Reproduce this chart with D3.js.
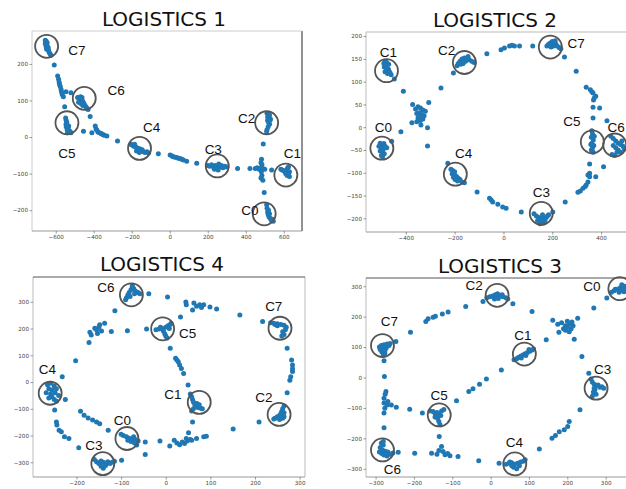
<!DOCTYPE html>
<html><head><meta charset="utf-8">
<script src="https://cdn.jsdelivr.net/npm/d3@7/dist/d3.min.js"></script>
<style>body{margin:0;background:#fff}svg{display:block}</style>
</head><body>
<svg id="c" width="626" height="489"></svg>
<script>
// ---------- DATA ----------
const titles = ["LOGISTICS 1", "LOGISTICS 2", "LOGISTICS 4", "LOGISTICS 3"];

const pts1 = [[-655,265],[-650,262],[-645,258],[-652,252],[-645,248],[-640,245],[-648,240],[-638,238],[-635,232],[-630,228],[-625,224],[-655,256],[-650,246],
[-608,197],[-590,167],[-585,158],[-582,150],[-580,144],[-576,138],[-572,130],[-570,124],[-566,116],[-560,110],[-546,124],[-520,121],
[-485,108],[-478,105],[-470,110],[-465,104],[-460,100],[-472,98],[-455,95],[-450,90],[-445,85],[-440,82],[-435,78],[-430,75],[-462,108],[-480,95],[-468,92],[-458,86],
[-553,83],[-548,52],[-545,45],[-542,40],[-546,35],[-540,30],[-535,25],[-540,20],[-530,18],[-525,15],[-520,12],[-538,12],[-545,28],[-532,30],
[-454,16],[-419,56],[-410,12],[-392,30],[-388,22],[-384,19],[-378,14],[-370,12],[-362,10],[-357,8],[-350,6],[-345,5],[-331,3],[-275,-11],
[-205,-20],[-198,-22],[-190,-25],[-185,-20],[-178,-28],[-170,-30],[-165,-35],[-158,-32],[-150,-38],[-145,-35],[-138,-40],[-130,-42],[-120,-40],[-112,-44],[-175,-38],[-160,-42],
[-60,-46],[2,-49],[12,-52],[19,-54],[28,-55],[37,-56],[45,-58],[54,-59],[63,-61],[72,-63],[89,-66],[142,-72],
[200,-78],[210,-80],[220,-76],[230,-82],[240,-78],[245,-85],[250,-80],[258,-74],[265,-82],[272,-78],[280,-84],[290,-80],[300,-82],[235,-88],[255,-90],
[357,-86],[422,-86],[450,-86],[460,-84],[470,-88],[480,-85],[490,-86],[500,-88],[483,-61],[480,-70],[485,-75],[482,-95],[485,-105],[480,-112],[490,-118],[492,-19],[497,-152],
[512,65],[518,62],[525,60],[515,55],[522,52],[528,50],[515,45],[520,40],[525,35],[530,48],[518,28],[512,20],[510,15],[524,44],
[536,-90],[585,-88],[592,-90],[600,-92],[608,-95],[615,-90],[620,-85],[625,-82],[630,-95],[625,-100],[618,-105],[630,-108],[610,-100],
[510,-185],[512,-195],[515,-205],[518,-212],[522,-218],[528,-222],[535,-228],[540,-225],[545,-230],[525,-210],[520,-200]];

const pts2 = [[-490,140],[-485,145],[-478,142],[-470,138],[-488,132],[-480,130],[-472,128],[-485,122],[-475,118],[-465,120],[-460,115],[-470,125],[-480,136],
[-447,106],[-410,79],
[-372,50],[-306,54],[-375,10],[-311,-1],[-360,40],[-350,45],[-340,42],[-330,38],[-355,30],[-345,32],[-335,28],[-325,25],[-350,20],[-340,15],[-330,18],[-345,25],[-338,5],[-355,12],[-320,35],
[-420,-10],[-458,-31],
[-505,-35],[-498,-38],[-490,-36],[-510,-42],[-500,-45],[-492,-48],[-485,-42],[-478,-45],[-505,-52],[-495,-55],[-488,-58],[-500,-62],[-495,-65],
[-311,-41],[-228,-79],
[-215,-92],[-208,-95],[-200,-98],[-210,-102],[-200,-105],[-192,-108],[-185,-112],[-198,-115],[-188,-118],[-178,-115],[-170,-120],[-160,-122],[-205,-110],
[-108,-142],[-57,-156],[-50,-160],[-44,-164],[-23,-169],[-3,-175],[11,-178],[73,-186],
[125,-190],[135,-195],[145,-198],[150,-205],[158,-200],[165,-210],[170,-205],[175,-198],[180,-195],[185,-192],[160,-192],[140,-205],[150,-212],
[202,-186],[253,-164],
[305,-143],[315,-140],[326,-134],[335,-130],[339,-127],[346,-120],[353,-109],[346,-105],[353,-101],[378,-109],[410,-87],[353,-81],
[362,-8],[365,-15],[360,-22],[368,-28],[362,-35],[370,-40],[365,-45],[360,-50],[368,-55],[372,-20],[358,-38],
[440,-20],[450,-25],[460,-30],[470,-35],[480,-38],[490,-42],[495,-48],[450,-40],[460,-45],[470,-50],[480,-55],[445,-60],[455,-62],[465,-55],[485,-30],
[367,20],[424,14],[394,42],[367,44],
[369,60],[378,68],[372,64],[367,75],[362,78],[356,82],[339,88],[298,123],[250,154],
[178,178],[185,182],[192,185],[200,188],[208,185],[215,182],[220,178],[228,175],[235,172],[205,178],[212,190],[195,176],
[120,178],[66,178],[45,178],[35,180],[25,178],[4,174],[-10,170],[-68,161],
[-190,135],[-185,140],[-178,145],[-170,150],[-160,152],[-150,150],[-140,148],[-130,145],[-120,142],[-165,140],[-155,145],[-175,138],[-145,155],
[-205,119],[-256,86]];

const pts4 = [[-88,315],[-85,325],[-82,335],[-78,345],[-75,355],[-72,350],[-68,340],[-62,335],[-58,330],[-70,330],[-80,320],[-90,308],[-75,360],
[-38,330],[4,318],[-114,266],[-86,192],
[-170,186],[-167,176],[-159,201],[-148,214],[-144,191],[-137,220],[-153,181],[-172,148],[-122,189],[-155,195],[-150,205],
[-202,80],[-232,20],
[-265,-10],[-258,-5],[-250,-15],[-262,-25],[-255,-30],[-245,-25],[-268,-40],[-258,-45],[-248,-40],[-240,-50],[-255,-55],[-250,-65],[-245,-72],[-262,-60],
[-225,-65],[-249,-105],
[-245,-149],[-244,-161],[-239,-180],[-234,-186],[-227,-205],[-217,-211],[-195,-246],
[-191,-109],[-183,-124],[-174,-134],[-164,-142],[-155,-149],[-148,-156],[-129,-180],
[-160,-290],[-155,-298],[-150,-305],[-145,-295],[-140,-300],[-135,-308],[-130,-298],[-125,-305],[-120,-300],[-115,-296],[-145,-315],[-140,-322],[-135,-312],
[-99,-292],
[-100,-195],[-95,-200],[-88,-205],[-82,-210],[-75,-212],[-68,-215],[-62,-220],[-78,-222],[-70,-228],[-65,-235],[-85,-218],[-72,-205],
[-46,-224],[-46,-271],
[-13,-220],[9,-239],[19,-218],[31,-234],[37,-224],[46,-211],[51,-190],[58,-218],[69,-211],[85,-205],[91,-203],[42,-230],[48,-220],[55,-215],[25,-228],
[55,-45],[58,-55],[60,-65],[62,-75],[65,-85],[68,-90],[72,-95],[78,-98],[82,-100],[70,-80],[62,-100],[58,-108],[75,-85],
[60,-149],[50,-11],
[10,126],[22,89],[25,82],[28,76],[31,64],[35,51],[40,32],
[-22,195],[-15,198],[-8,200],[0,205],[5,210],[10,215],[12,220],[-5,190],[-2,180],[0,172],[3,165],[-12,205],[8,200],
[-43,198],[33,243],
[45,299],[46,289],[63,295],[69,283],[76,289],[80,279],[85,289],[99,280],[114,273],[60,269],
[166,251],[217,226],
[235,222],[242,220],[250,218],[258,215],[265,212],[270,205],[268,195],[262,188],[265,178],[260,172],[250,210],[245,215],
[272,126],[282,82],[284,64],[284,50],[284,39],[280,20],[278,7],[272,-40],
[265,-90],[262,-100],[260,-110],[258,-118],[255,-125],[250,-130],[245,-135],[242,-138],[265,-130],[262,-135],[255,-140],[265,-115],
[209,-149],[151,-176]];

const pts3 = [[-10,262],[-2,265],[5,268],[12,272],[18,275],[25,270],[32,265],[40,262],[45,258],[20,260],[10,258],[30,272],[15,265],
[-20,250],[58,242],[108,217],
[315,280],[322,285],[330,290],[338,295],[345,298],[350,300],[340,285],[348,282],[335,280],[325,290],[352,290],[342,305],
[303,261],[269,228],
[-65,233],[-111,215],[-126,209],[-144,201],[-150,198],[-163,193],[-169,184],[-209,149],[-247,118],
[-290,100],[-285,105],[-278,108],[-270,110],[-262,112],[-288,92],[-280,95],[-272,98],[-284,85],[-276,80],[-280,75],[-265,105],[-275,90],
[-278,55],
[-277,3],[-273,-46],[-278,-68],[-278,-84],[-276,-101],[-268,-79],[-259,-90],[-246,-98],[-278,-117],[-278,-165],[-275,-55],[-270,-90],
[-285,-215],[-280,-222],[-288,-230],[-282,-238],[-275,-242],[-268,-245],[-290,-245],[-284,-250],[-278,-255],[-270,-258],[-262,-252],[-255,-248],[-280,-210],
[-241,-246],
[-198,-249],[-154,-249],[-140,-252],[-128,-227],[-124,-243],[-119,-254],[-106,-257],[-134,-194],[-85,-260],[-31,-274],[-135,-240],[-112,-250],
[-158,-110],[-150,-112],[-145,-118],[-140,-125],[-135,-120],[-128,-110],[-122,-105],[-145,-130],[-138,-135],[-135,-145],[-132,-155],[-140,-115],[-130,-125],
[-211,-104],[-178,-117],[-89,-76],
[-57,-46],[-46,-37],[-29,-22],[-11,-5],[28,25],[61,58],
[68,62],[72,66],[78,70],[84,74],[90,78],[96,82],[102,86],[108,90],[112,94],[80,64],[92,72],[100,92],
[145,124],
[175,175],[185,180],[195,170],[200,165],[205,175],[210,160],[215,170],[205,150],[195,155],[190,160],[162,188],[178,149],[227,195],[218,126],[200,185],[212,182],
[238,69],[256,14],
[262,-5],[265,-15],[270,-22],[275,-28],[280,-25],[285,-32],[290,-30],[295,-35],[272,-40],[268,-48],[275,-55],[265,-62],[270,-35],
[233,-106],[205,-145],[201,-161],[192,-172],[179,-178],[169,-191],[160,-200],[127,-235],
[40,-285],[48,-282],[55,-280],[62,-285],[70,-282],[78,-278],[85,-275],[90,-270],[60,-295],[68,-300],[55,-290],[75,-290],[50,-278],
[22,-282]];

// circled clusters: [label, cx, cy, labelX, labelY]
const marks1 = [["C7",-648,248,-489,238],["C6",-450,106,-282,127],["C5",-541,39,-541,-43],["C4",-159,-31,-95,28],
                ["C3",250,-79,229,-34],["C2",510,39,405,51],["C1",611,-104,646,-43],["C0",497,-210,422,-201]];
const marks2 = [["C1",-479,124,-471,164],["C0",-498,-46,-492,0],["C4",-197,-103,-163,-56],["C3",155,-189,155,-142],
                ["C5",364,-32,280,14],["C6",456,-39,462,1],["C7",192,176,298,185],["C2",-160,142,-233,170]];
const marks4 = [["C6",-77,326,-134,356],["C5",-7,199,49,182],["C7",256,201,242,285],["C4",-259,-42,-265,49],
                ["C1",75,-76,16,-45],["C2",254,-121,220,-55],["C0",-87,-211,-97,-142],["C3",-141,-305,-161,-236]];
const marks3 = [["C2",17,270,-43,303],["C0",337,292,264,299],["C7",-282,105,-264,186],["C1",88,77,84,138],
                ["C3",275,-35,292,27],["C5",-134,-123,-134,-57],["C6",-282,-238,-256,-301],["C4",63,-284,62,-214]];

const xTicks1 = [-600,-400,-200,0,200,400,600], yTicks1 = [-200,-100,0,100,200];
const xTicks2 = [-400,-200,0,200,400], yTicks2 = [-200,-150,-100,-50,0,50,100,150,200];
const xTicks4 = [-200,-100,0,100,200,300], yTicks4 = [-300,-200,-100,0,100,200,300];
const xTicks3 = [-300,-200,-100,0,100,200,300], yTicks3 = [-300,-200,-100,0,100,200,300];

const xDom1 = [-725,696], yDom1 = [-257,290];
const xDom2 = [-563,502], yDom2 = [-230,209];
const xDom4 = [-297.5,312], yDom4 = [-355,392.6];
const xDom3 = [-325,353], yDom3 = [-327,327];

// ---------- DRAW ----------
const svg = d3.select("#c");
const BLUE = "#1f77b4";

function panel(cfg){
  const {box, xDom, yDom, xTicks, yTicks, pts, marks, title, titleX, titleY, spines} = cfg;
  const x = d3.scaleLinear().domain(xDom).range([box[0], box[2]]);
  const y = d3.scaleLinear().domain(yDom).range([box[3], box[1]]);
  const g = svg.append("g");
  const sp = [
    ["left", box[0],box[1],box[0],box[3]],
    ["right",box[2],box[1],box[2],box[3]],
    ["top",  box[0],box[1],box[2],box[1]],
    ["bottom",box[0],box[3],box[2],box[3]]];
  sp.forEach(s=>{
    const c = spines[s[0]];
    if(!c) return;
    g.append("line").attr("x1",s[1]).attr("y1",s[2]).attr("x2",s[3]).attr("y2",s[4])
      .attr("stroke",c).attr("stroke-width",1);
  });
  const fmt = d => d < 0 ? "\u2212" + Math.abs(d) : String(d);
  const ax = g.append("g").attr("transform",`translate(0,${box[3]})`)
    .call(d3.axisBottom(x).tickValues(xTicks).tickFormat(fmt).tickSize(2.5).tickPadding(1.5));
  const ay = g.append("g").attr("transform",`translate(${box[0]},0)`)
    .call(d3.axisLeft(y).tickValues(yTicks).tickFormat(fmt).tickSize(2.5).tickPadding(1.5));
  [ax, ay].forEach(a=>{
    a.select(".domain").remove();
    a.selectAll("line").attr("stroke","#555").attr("stroke-width",0.6);
    a.selectAll("text").attr("font-family","DejaVu Sans, sans-serif").attr("font-size","5.6px").attr("fill","#444");
  });
  g.append("g").selectAll("circle").data(pts).join("circle")
    .attr("cx",d=>x(d[0])).attr("cy",d=>y(d[1])).attr("r",2.5).attr("fill",BLUE);
  g.append("g").selectAll("circle").data(marks).join("circle")
    .attr("cx",d=>x(d[1])).attr("cy",d=>y(d[2])).attr("r",11.5)
    .attr("fill","none").attr("stroke","#555").attr("stroke-width",1.8);
  g.append("g").selectAll("text").data(marks).join("text")
    .attr("x",d=>x(d[3])).attr("y",d=>y(d[4])).attr("text-anchor","middle").attr("dy","0.36em")
    .attr("font-family","Liberation Sans, Arial, sans-serif").attr("font-size","13.5px").attr("fill","#111")
    .text(d=>d[0]);
  svg.append("text").attr("x",titleX).attr("y",titleY).attr("text-anchor","middle")
    .attr("font-family","DejaVu Sans, sans-serif").attr("font-size","20px").attr("fill","#111")
    .text(title);
}

panel({box:[32,31,302,231], xDom:xDom1, yDom:yDom1, xTicks:xTicks1, yTicks:yTicks1, pts:pts1, marks:marks1,
  title:titles[0], titleX:164, titleY:26, spines:{left:"#ccc",top:"#ccc",bottom:"#999",right:"#222"}});
panel({box:[366,32,626,232], xDom:xDom2, yDom:yDom2, xTicks:xTicks2, yTicks:yTicks2, pts:pts2, marks:marks2,
  title:titles[1], titleX:495, titleY:27, spines:{left:"#bbb",top:"#bbb",bottom:"#999"}});
panel({box:[33,277,305,477], xDom:xDom4, yDom:yDom4, xTicks:xTicks4, yTicks:yTicks4, pts:pts4, marks:marks4,
  title:titles[2], titleX:162, titleY:271, spines:{left:"#bbb",top:"#555",bottom:"#999",right:"#bbb"}});
panel({box:[366,278,626,477], xDom:xDom3, yDom:yDom3, xTicks:xTicks3, yTicks:yTicks3, pts:pts3, marks:marks3,
  title:titles[3], titleX:500, titleY:273, spines:{left:"#bbb",top:"#555",bottom:"#999"}});
</script>
</body></html>
